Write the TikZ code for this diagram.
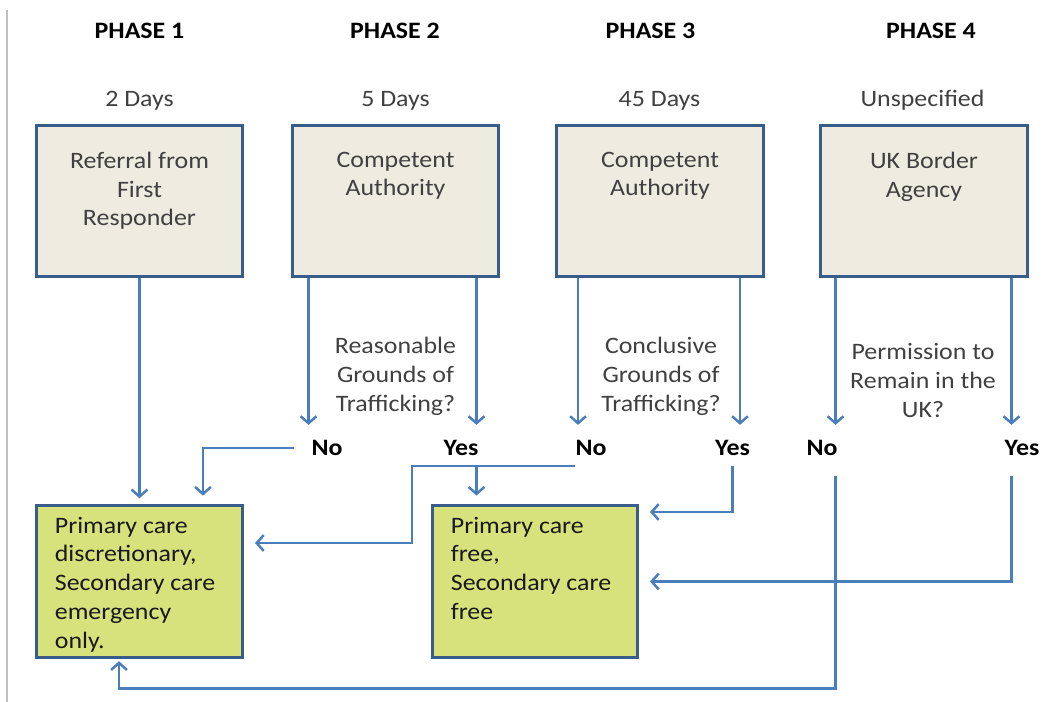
\documentclass[tikz,border=0pt]{standalone}
\usepackage{fontspec}
\setmainfont{Carlito}[FakeStretch=1.1]
\usepackage{tikz}
\usetikzlibrary{positioning, arrows.meta}

\definecolor{linkblue}{RGB}{74,126,187}
\definecolor{borderblue}{RGB}{56,93,138}
\definecolor{boxtan}{RGB}{238,236,225}
\definecolor{caregreen}{RGB}{216,226,124}
\definecolor{textgray}{RGB}{64,64,64}
\newcommand{\diagfont}{\fontsize{13.4}{16.4}\selectfont}

\begin{document}
\begin{tikzpicture}[x=0.02cm, y=-0.02cm, font=\diagfont]
        % Setup the styles
        \tikzset{phase style/.style={font=\diagfont\bfseries,
                                     inner sep=0pt,
                                     anchor=base}}
        \tikzset{days style/.style={text=textgray,
                                    inner sep=0pt,
                                    anchor=base}}
        \tikzset{box style/.style={draw=borderblue,
                                   line width=1.7pt,
                                   fill=boxtan,
                                   minimum width=4.14cm,
                                   minimum height=3.04cm}}
        \tikzset{care style/.style={draw=borderblue,
                                    line width=1.7pt,
                                    fill=caregreen,
                                    minimum width=4.14cm,
                                    minimum height=3.06cm}}
        \tikzset{box text/.style={text=textgray, align=center, inner sep=0pt}}
        \tikzset{care text/.style={text=black!90, align=left, inner sep=0pt}}
        \tikzset{question style/.style={text=textgray,
                                        align=center,
                                        inner sep=0pt,
                                        anchor=north}}
        \tikzset{answer style/.style={font=\diagfont\bfseries,
                                      inner sep=0pt,
                                      minimum height=0.7cm}}
        \tikzset{link style/.style={draw=linkblue,
                                    line width=1.4pt,
                                    -{Straight Barb[length=4pt,width=9pt]},
                                    shorten >=3pt}}

        \useasboundingbox (0,0) rectangle (1043,702);
        \draw[black!25, line width=0.6pt] (7,10) -- (7,702);

        % Phases and durations
        \node[phase style] at (139.5,39) (phase1) {PHASE 1};
        \node[phase style] at (395,39)   (phase2) {PHASE 2};
        \node[phase style] at (650.5,39) (phase3) {PHASE 3};
        \node[phase style] at (931,39)   (phase4) {PHASE 4};
        \node[days style] at (139.5,107) (days1) {2 Days};
        \node[days style] at (395.5,107) (days2) {5 Days};
        \node[days style] at (659.5,107) (days3) {45 Days};
        \node[days style] at (922.5,107) (days4) {Unspecified};

        % Draw the top boxes
        \node[box style] at (139.5,201) (box1) {};
        \node[box style] at (395.5,201) (box2) {};
        \node[box style] at (660,201)   (box3) {};
        \node[box style] at (924,201)   (box4) {};
        \node[box text, below=0.56cm of box1.north] (text1) {Referral from\\First\\Responder};
        \node[box text, below=0.56cm of box2.north] (text2) {Competent\\Authority};
        \node[box text, below=0.56cm of box3.north] (text3) {Competent\\Authority};
        \node[box text, below=0.56cm of box4.north] (text4) {UK Border\\Agency};

        % Questions and answers
        \node[question style] at (395.5,337) (ask2) {Reasonable\\Grounds of\\Trafficking?};
        \node[question style] at (661,337)   (ask3) {Conclusive\\Grounds of\\Trafficking?};
        \node[question style] at (923,343)   (ask4) {Permission to\\Remain in the\\UK?};
        \node[answer style] at (327,448)   (no2)  {No};
        \node[answer style] at (461,448)   (yes2) {Yes};
        \node[answer style] at (591,448)   (no3)  {No};
        \node[answer style] at (732.5,448) (yes3) {Yes};
        \node[answer style] at (822,448)   (no4)  {No};
        \node[answer style] at (1022,448)  (yes4) {Yes};

        % Draw the care boxes
        \node[care style] at (139.5,581.5) (care1) {};
        \node[care style, minimum width=4.12cm] at (535,581.5) (care2) {};
        \node[care text, below right=0.26cm and 0.4cm of care1.north west] (caretext1)
            {Primary care\\discretionary,\\Secondary care\\emergency\\only.};
        \node[care text, below right=0.26cm and 0.4cm of care2.north west] (caretext2)
            {Primary care\\free,\\Secondary care\\free};

        % Stems below the boxes
        \coordinate (stem2l) at ([xshift=0.36cm]box2.south west);
        \coordinate (stem2r) at ([xshift=-0.48cm]box2.south east);
        \coordinate (stem3l) at ([xshift=0.46cm]box3.south west);
        \coordinate (stem3r) at ([xshift=-0.5cm]box3.south east);
        \coordinate (stem4l) at ([xshift=0.33cm]box4.south west);
        \coordinate (stem4r) at ([xshift=-0.35cm]box4.south east);

        % Connect the boxes with arrows
        \draw[link style] (box1.south) -- (care1.north);
        \draw[link style] (stem2l) -- (stem2l |- no2.north);
        \draw[link style] (stem2r) -- (stem2r |- yes2.north);
        \draw[link style] (stem3l) -- (stem3l |- no3.north);
        \draw[link style] (stem3r) -- (stem3r |- yes3.north);
        \draw[link style] (stem4l) -- (stem4l |- no4.north);
        \draw[link style] (stem4r) -- (stem4r |- yes4.north);

        \draw[link style, shorten <=10pt, shorten >=4.5pt]
            (no2.west) -| ([xshift=1.27cm]care1.north);
        \draw[link style, shorten >=4.5pt]
            (stem2r |- yes2.south) -- (stem2r |- care2.north);
        \draw[link style, shorten >=6pt]
            (no3.south west) -- ++(-163,0) |- ([yshift=0.77cm]care1.east);
        \draw[link style, shorten >=6pt]
            (yes3.south) |- ([yshift=1.39cm]care2.east);
        \draw[link style, shorten <=6pt, shorten >=1pt]
            (stem4l |- no4.south) -- ++(0,222.5) -| ([xshift=-0.41cm]care1.south);
        \draw[link style, shorten <=6pt, shorten >=6pt]
            (stem4r |- yes4.south) |- (care2.east);
\end{tikzpicture}
\end{document}
